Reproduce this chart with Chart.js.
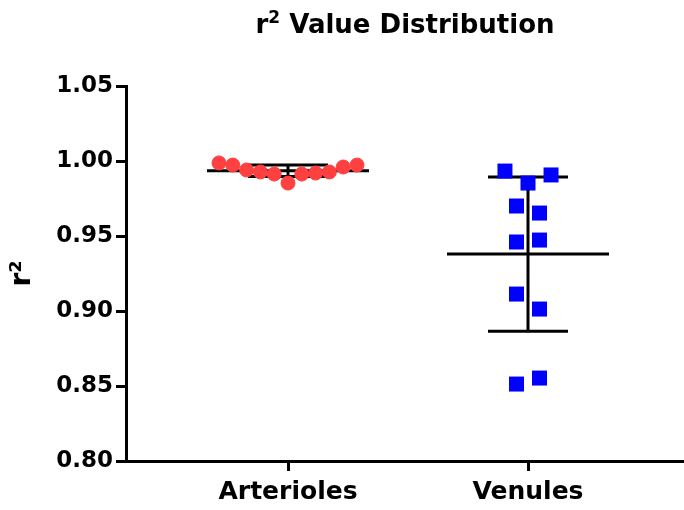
<!DOCTYPE html>
<html>
<head>
<meta charset="utf-8">
<script src="https://cdn.jsdelivr.net/npm/chart.js@4.4.1/dist/chart.umd.min.js"></script>
<style>
  html, body { margin: 0; padding: 0; background: #fff; }
  #wrap { width: 684px; height: 510px; }
</style>
</head>
<body>
<div id="wrap"><canvas id="chart" width="684" height="510"></canvas></div>
<script>
// groups on the x axis
const categories = ["Arterioles", "Venules"];

// r² values, listed left to right as they sit in each group
const arteriolesValues = [0.9987, 0.9973, 0.9940, 0.9927, 0.9913, 0.9853, 0.9913, 0.9920, 0.9927, 0.9960, 0.9973];
const venulesValues = [0.9933, 0.9853, 0.9907, 0.9700, 0.9653, 0.9460, 0.9473, 0.9113, 0.9013, 0.8513, 0.8553];

const yTicks = [0.80, 0.85, 0.90, 0.95, 1.00, 1.05];

const FONT = "'DejaVu Sans', sans-serif";

// spread points that share roughly the same value side by side
function spread(values, center, step) {
    let groups = [];
    let current = [];
    values.forEach(function(v, i) {
        if (current.length && Math.abs(v - values[i - 1]) > 0.012) {
            groups.push(current);
            current = [];
        }
        current.push(v);
    });
    groups.push(current);

    let points = [];
    groups.forEach(function(g) {
        g.forEach(function(v, j) {
            points.push({ x: center + (j - (g.length - 1) / 2) * step, y: v });
        });
    });
    return points;
}

function meanSd(values) {
    let mean = values.reduce(function(a, b) { return a + b; }, 0) / values.length;
    let sq = values.reduce(function(a, b) { return a + (b - mean) * (b - mean); }, 0);
    return { mean: mean, sd: Math.sqrt(sq / (values.length - 1)) };
}

const errorBars = {
    id: "errorBars",
    beforeDatasetsDraw: function(chart) {
        let ctx = chart.ctx;
        let xs = chart.scales.x;
        let ys = chart.scales.y;
        ctx.save();
        ctx.strokeStyle = "#000";
        ctx.lineWidth = 3;
        [arteriolesValues, venulesValues].forEach(function(values, i) {
            let s = meanSd(values);
            let cx = xs.getPixelForValue(i + 1);
            let yMean = ys.getPixelForValue(s.mean);
            let yTop = ys.getPixelForValue(s.mean + s.sd);
            let yBot = ys.getPixelForValue(s.mean - s.sd);
            ctx.beginPath();
            ctx.moveTo(cx - 81, yMean); ctx.lineTo(cx + 81, yMean);
            ctx.moveTo(cx, yTop); ctx.lineTo(cx, yBot);
            ctx.moveTo(cx - 40, yTop); ctx.lineTo(cx + 40, yTop);
            ctx.moveTo(cx - 40, yBot); ctx.lineTo(cx + 40, yBot);
            ctx.stroke();
        });
        ctx.restore();
    }
};

// title with a raised "2"
const titlePlugin = {
    id: "plotTitle",
    afterDraw: function(chart) {
        let ctx = chart.ctx;
        let area = chart.chartArea;
        let big = "bold 26px " + FONT;
        let small = "bold 17px " + FONT;
        ctx.save();
        ctx.fillStyle = "#000";
        ctx.textAlign = "left";
        ctx.textBaseline = "alphabetic";
        ctx.font = big;
        let wR = ctx.measureText("r").width;
        let wRest = ctx.measureText(" Value Distribution").width;
        ctx.font = small;
        let w2 = ctx.measureText("2").width;
        let x = (area.left + area.right) / 2 - (wR + w2 + wRest) / 2;
        let base = 33;
        ctx.font = big;
        ctx.fillText("r", x, base);
        ctx.font = small;
        ctx.fillText("2", x + wR, base - 10);
        ctx.font = big;
        ctx.fillText(" Value Distribution", x + wR + w2, base);
        ctx.restore();
    }
};

let ctx = document.getElementById("chart");
let chart = new Chart(ctx, {
    type: "scatter",
    data: {
        datasets: [
            {
                label: categories[0],
                data: spread(arteriolesValues, 1, 0.0575),
                pointStyle: "circle",
                pointRadius: 7,
                pointHoverRadius: 7,
                backgroundColor: "#FF4040",
                borderColor: "#FF4040",
                borderWidth: 1
            },
            {
                label: categories[1],
                data: spread(venulesValues, 2, 0.096),
                pointStyle: "rect",
                pointRadius: 10.6,
                pointHoverRadius: 10.6,
                backgroundColor: "#0000FF",
                borderColor: "#0000FF",
                borderWidth: 0
            }
        ]
    },
    options: {
        responsive: false,
        animation: false,
        layout: { autoPadding: false, padding: { top: 86, left: 0, right: 0, bottom: 0 } },
        plugins: {
            legend: { display: false },
            title: { display: false },
            tooltip: { enabled: false }
        },
        scales: {
            x: {
                type: "linear",
                min: 0.325,
                max: 2.65,
                afterFit: function(scale) { scale.height = 49; },
                afterBuildTicks: function(scale) {
                    scale.ticks = categories.map(function(c, i) { return { value: i + 1 }; });
                },
                ticks: {
                    color: "#000",
                    padding: 6,
                    font: { family: FONT, weight: "bold", size: 25 },
                    callback: function(value) { return categories[value - 1]; }
                },
                grid: { drawOnChartArea: false, drawTicks: true, tickLength: 10, tickWidth: 3, tickColor: "#000" },
                border: { display: true, color: "#000", width: 3 }
            },
            y: {
                min: 0.80,
                max: 1.05,
                afterFit: function(scale) { scale.width = 126; },
                afterBuildTicks: function(scale) {
                    scale.ticks = yTicks.map(function(v) { return { value: v }; });
                },
                ticks: {
                    color: "#000",
                    padding: 3,
                    font: { family: FONT, weight: "bold", size: 23 },
                    callback: function(value) { return value.toFixed(2); }
                },
                title: {
                    display: true,
                    text: "r²",
                    color: "#000",
                    padding: { top: 6, bottom: 0 },
                    font: { family: FONT, weight: "bold", size: 28 }
                },
                grid: { drawOnChartArea: false, drawTicks: true, tickLength: 10, tickWidth: 3, tickColor: "#000" },
                border: { display: true, color: "#000", width: 3 }
            }
        }
    },
    plugins: [errorBars, titlePlugin]
});
</script>
</body>
</html>
